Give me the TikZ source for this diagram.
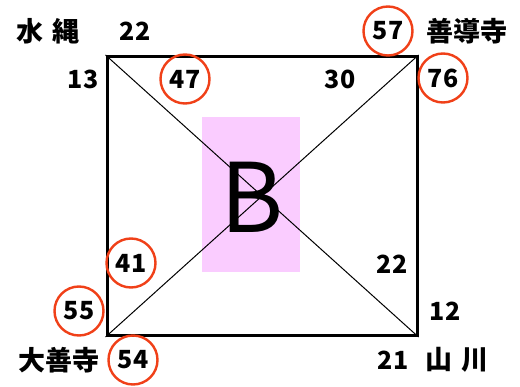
\documentclass[tikz,border=0pt]{standalone}
\usepackage{fontspec}
\setmainfont{Noto Sans CJK JP}
\usepackage{xcolor}
\definecolor{RingRed}{RGB}{240,64,24}
\definecolor{FillPink}{RGB}{250,204,255}
\usepackage{tikz}
\usetikzlibrary{positioning}
\tikzset{
  % plain number beside a corner
  num/.style={font=\fontsize{25}{27}\selectfont\bfseries, inner sep=0pt},
  % circled number
  cnum/.style={num, circle, draw=RingRed, line width=2.4pt,
    minimum size=49pt},
  % place name
  place/.style={font=\fontsize{27}{29}\selectfont\bfseries, inner sep=0pt},
  % the big square
  frame/.style={draw, line width=3pt, minimum width=310pt,
    minimum height=279pt, inner sep=0pt},
}

\begin{document}
\begin{tikzpicture}[x=1pt, y=-1pt]
  \useasboundingbox (0,0) rectangle (520,387);

  % pink block and the square
  \fill[FillPink] (202,117) rectangle (300,272);
  \node[frame] (sq) at (262,196) {};
  \draw[line width=1pt] (sq.north west) -- (sq.south east);
  \draw[line width=1pt] (sq.south west) -- (sq.north east);
  \node[font=\fontsize{96}{100}\selectfont, inner sep=0pt] (big) at (252,197) {B};

  % top left
  \node[place] (mizu) at (48,31) {水\hspace{0.35em}縄};
  \node[num] (n22a) at (135,31) {22};
  \node[num] (n13) at (83,79) {13};
  \node[cnum] (n47) at (185,79) {47};

  % top right
  \node[num] (n30) at (340,79) {30};
  \node[cnum] (n57) at (388,31) {57};
  \node[place] (zendo) at (467,31) {善導寺};
  \node[cnum] (n76) at (443,78) {76};

  % bottom left
  \node[cnum] (n41) at (131,263) {41};
  \node[cnum] (n55) at (79,311) {55};
  \node[place] (daizen) at (59,360) {大善寺};
  \node[cnum] (n54) at (133,360) {54};

  % bottom right
  \node[num] (n22b) at (392,264) {22};
  \node[num] (n12) at (445,311) {12};
  \node[num] (n21) at (393,360) {21};
  \node[place] (yama) at (457,360) {山\hspace{0.35em}川};

\end{tikzpicture}
\end{document}
